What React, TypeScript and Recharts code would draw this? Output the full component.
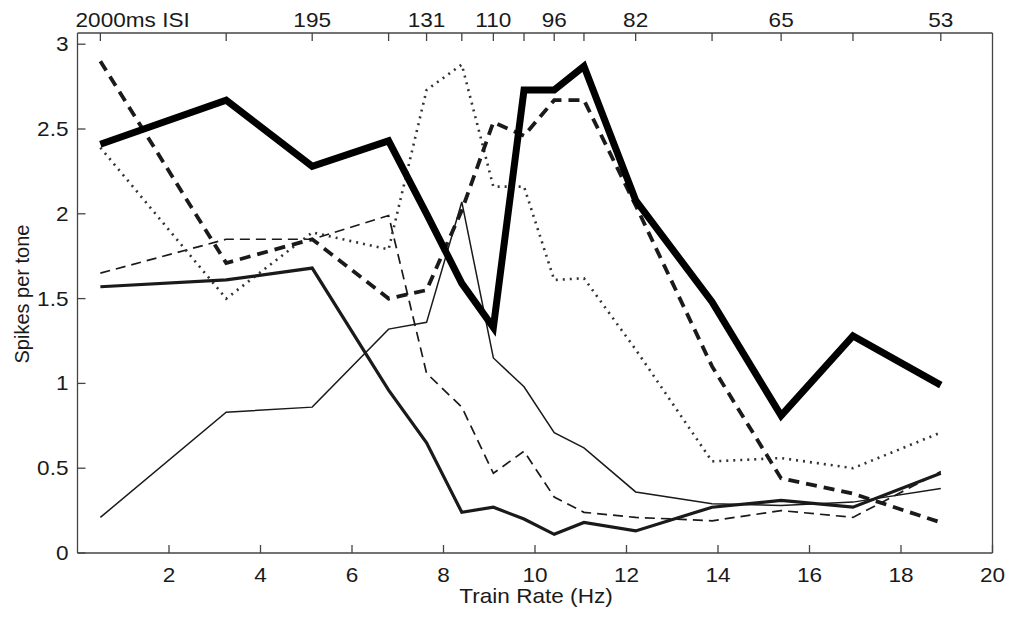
import { LineChart, Line, XAxis, YAxis, Label } from "recharts"

// train rates (Hz) = 1000 / ISI(ms)
const rates = [0.5, 3.25, 5.13, 6.8, 7.63, 8.4, 9.09, 9.76, 10.42, 11.07, 12.2, 13.87, 15.38, 16.95, 18.87]
const isiLabels = ["2000ms ISI", "", "195", "", "131", "", "110", "", "96", "", "82", "", "65", "", "53"]

const thickSolid = [2.41, 2.67, 2.28, 2.43, 2.0, 1.59, 1.33, 2.73, 2.73, 2.87, 2.08, 1.48, 0.81, 1.28, 0.99]
const thickDashed = [2.9, 1.71, 1.85, 1.5, 1.55, 2.02, 2.54, 2.46, 2.67, 2.67, 2.05, 1.1, 0.44, 0.35, 0.18]
const dotted = [2.39, 1.5, 1.89, 1.79, 2.73, 2.88, 2.16, 2.16, 1.61, 1.62, 1.2, 0.54, 0.56, 0.5, 0.71]
const mediumSolid = [1.57, 1.61, 1.68, 0.96, 0.65, 0.24, 0.27, 0.2, 0.11, 0.18, 0.13, 0.27, 0.31, 0.27, 0.47]
const thinSolid = [0.21, 0.83, 0.86, 1.32, 1.36, 2.07, 1.15, 0.98, 0.71, 0.62, 0.36, 0.29, 0.28, 0.3, 0.38]
const thinDashed = [1.65, 1.85, 1.85, 1.99, 1.06, 0.86, 0.47, 0.6, 0.33, 0.24, 0.21, 0.19, 0.25, 0.21, 0.48]

const xTicks = [2, 4, 6, 8, 10, 12, 14, 16, 18, 20]
const yTicks = [0, 0.5, 1, 1.5, 2, 2.5, 3]

const data = rates.map((rate, i) => ({
  rate,
  thickSolid: thickSolid[i],
  thickDashed: thickDashed[i],
  dotted: dotted[i],
  mediumSolid: mediumSolid[i],
  thinSolid: thinSolid[i],
  thinDashed: thinDashed[i],
}))

const INK = "#1a1a1a"
const AXIS = "#444"
const FONT = "'Liberation Sans', Arial, sans-serif"
const FS = 20
const TICK = 8
const STRETCH = 1.13 // the scanned figure is a bit wider than tall

function Txt({ x, y, anchor, children }: { x: number; y: number; anchor: string; children: any }) {
  return (
    <text
      transform={`translate(${x},${y}) scale(${STRETCH},1)`}
      textAnchor={anchor as any}
      fontSize={FS}
      fill={INK}
      fontFamily={FONT}
    >
      {children}
    </text>
  )
}

function BottomTick(props: any) {
  const { x, y, payload } = props
  return (
    <g>
      <line x1={x} y1={y} x2={x} y2={y - TICK} stroke={AXIS} strokeWidth={1.3} />
      <Txt x={x} y={y + 29} anchor="middle">{payload.value}</Txt>
    </g>
  )
}

function LeftTick(props: any) {
  const { x, y, payload } = props
  return (
    <g>
      <line x1={x} y1={y} x2={x + TICK} y2={y} stroke={AXIS} strokeWidth={1.3} />
      <Txt x={x - 9} y={y + 7} anchor="end">{payload.value}</Txt>
    </g>
  )
}

function TopTick(props: any) {
  const { x, y, payload } = props
  const idx = rates.indexOf(payload.value)
  const label = idx >= 0 ? isiLabels[idx] : ""
  // first label: centre the "2000" on its tick, the rest runs on to the right
  const first = idx === 0
  return (
    <g>
      <line x1={x} y1={y} x2={x} y2={y + TICK} stroke={AXIS} strokeWidth={1.3} />
      {label && (
        <Txt x={first ? x - 22 * STRETCH : x} y={y - 6} anchor={first ? "start" : "middle"}>
          {label}
        </Txt>
      )}
    </g>
  )
}

export default function App() {
  return (
    <div style={{ position: "absolute", left: 0, top: 0, width: 1015, height: 618, background: "#fff" }}>
      <LineChart width={1015} height={618} data={data} margin={{ top: 0, right: 0, bottom: 0, left: 0 }}>
        <XAxis
          xAxisId="bottom"
          type="number"
          dataKey="rate"
          domain={[0, 20]}
          ticks={xTicks}
          interval={0}
          height={65}
          tickSize={0}
          tickMargin={0}
          tickLine={false}
          tick={<BottomTick />}
          axisLine={{ stroke: AXIS, strokeWidth: 1.3 }}
        >
          <Label content={() => <Txt x={536} y={603} anchor="middle">Train Rate (Hz)</Txt>} />
        </XAxis>
        <XAxis
          xAxisId="top"
          orientation="top"
          type="number"
          dataKey="rate"
          domain={[0, 20]}
          ticks={rates}
          interval={0}
          height={33}
          tickSize={0}
          tickMargin={0}
          tickLine={false}
          tick={<TopTick />}
          axisLine={{ stroke: AXIS, strokeWidth: 1.3 }}
        />
        <YAxis
          yAxisId="left"
          type="number"
          domain={[0, 3.066]}
          ticks={yTicks}
          interval={0}
          width={77.5}
          tickSize={0}
          tickMargin={0}
          tickLine={false}
          tick={<LeftTick />}
          axisLine={{ stroke: AXIS, strokeWidth: 1.3 }}
        >
          <Label
            content={() => (
              <text
                transform="translate(29, 294) rotate(-90)"
                textAnchor="middle"
                fontSize={FS}
                fill={INK}
                fontFamily={FONT}
              >
                Spikes per tone
              </text>
            )}
          />
        </YAxis>
        <YAxis
          yAxisId="right"
          orientation="right"
          type="number"
          domain={[0, 3.066]}
          width={22.5}
          tick={false}
          tickLine={false}
          axisLine={{ stroke: AXIS, strokeWidth: 1.3 }}
        />

        <Line
          xAxisId="bottom"
          yAxisId="left"
          type="linear"
          dataKey="thinSolid"
          stroke={INK}
          strokeWidth={1.5}
          dot={false}
          isAnimationActive={false}
        />
        <Line
          xAxisId="bottom"
          yAxisId="left"
          type="linear"
          dataKey="thinDashed"
          stroke={INK}
          strokeWidth={1.7}
          strokeDasharray="10 6"
          dot={false}
          isAnimationActive={false}
        />
        <Line
          xAxisId="bottom"
          yAxisId="left"
          type="linear"
          dataKey="dotted"
          stroke="#333"
          strokeWidth={2.6}
          strokeDasharray="2 5"
          dot={false}
          isAnimationActive={false}
        />
        <Line
          xAxisId="bottom"
          yAxisId="left"
          type="linear"
          dataKey="mediumSolid"
          stroke={INK}
          strokeWidth={3.2}
          dot={false}
          isAnimationActive={false}
        />
        <Line
          xAxisId="bottom"
          yAxisId="left"
          type="linear"
          dataKey="thickDashed"
          stroke={INK}
          strokeWidth={3.8}
          strokeDasharray="11 7"
          dot={false}
          isAnimationActive={false}
        />
        <Line
          xAxisId="bottom"
          yAxisId="left"
          type="linear"
          dataKey="thickSolid"
          stroke="#000"
          strokeWidth={7}
          dot={false}
          isAnimationActive={false}
        />
      </LineChart>
    </div>
  )
}
